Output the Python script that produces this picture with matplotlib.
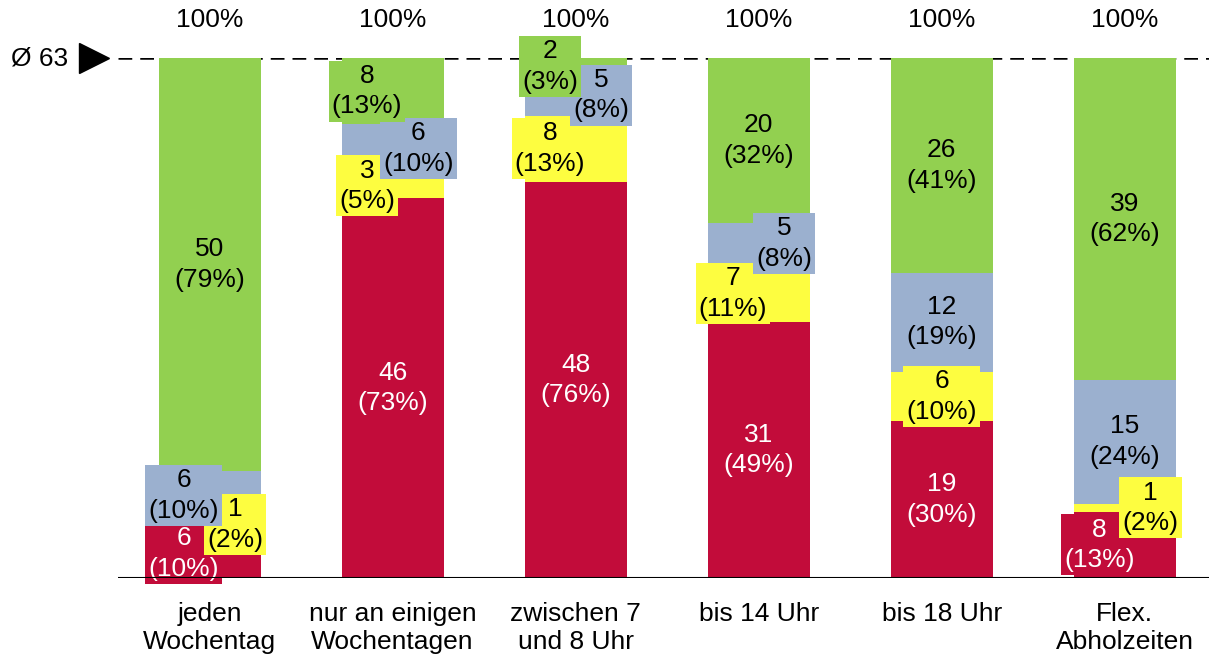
import matplotlib.pyplot as plt
import numpy as np

plt.rcParams['font.family'] = ['Liberation Sans', 'DejaVu Sans']

# Daten
categories = ["jeden\nWochentag", "nur an einigen\nWochentagen", "zwischen 7\nund 8 Uhr",
              "bis 14 Uhr", "bis 18 Uhr", "Flex.\nAbholzeiten"]
red_vals = [6, 46, 48, 31, 19, 8]
yellow_vals = [1, 3, 8, 7, 6, 1]
blue_vals = [6, 6, 5, 5, 12, 15]
green_vals = [50, 8, 2, 20, 26, 39]
red_pct = [10, 73, 76, 49, 30, 13]
yellow_pct = [2, 5, 13, 11, 10, 2]
blue_pct = [10, 10, 8, 8, 19, 24]
green_pct = [79, 13, 3, 32, 41, 62]
average = 63

# Farben
colors = ["#C20C3A", "#FDFD40", "#9BB0CF", "#92D050"]
text_colors = ["white", "black", "black", "black"]

# Verschiebung der Beschriftungen (links -1 / rechts +1)
shifts = [
    [-1, 0, 0, 0, 0, -1],   # rot
    [1, -1, -1, -1, 0, 1],  # gelb
    [-1, 1, 1, 1, 0, 0],    # blau
    [0, -1, -1, 0, 0, 0],   # gruen
]

series = [red_vals, yellow_vals, blue_vals, green_vals]
pcts = [red_pct, yellow_pct, blue_pct, green_pct]

fig = plt.figure(figsize=(12.09, 6.58), dpi=100)
ax = fig.add_axes([118 / 1209, 80 / 658, 1091 / 1209, 520 / 658])

x = np.arange(len(categories))
width = 0.557
bottom = np.zeros(len(categories))
fs = 19

for k, vals in enumerate(series):
    vals = np.array(vals)
    ax.bar(x, vals, width, bottom=bottom, color=colors[k], zorder=2)
    for i in range(len(x)):
        cy = bottom[i] + vals[i] / 2
        cx = x[i] + shifts[k][i] * 0.14
        ax.text(cx, cy, "{0}\n({1}%)".format(vals[i], pcts[k][i]),
                ha="center", va="center", fontsize=fs, linespacing=1.35,
                color=text_colors[k], zorder=3 + k,
                bbox=dict(boxstyle="square,pad=0.12", fc=colors[k], ec="none"))
    bottom = bottom + vals

# 100% oben
for i in range(len(x)):
    ax.text(x[i], average + 4.6, "100%", ha="center", va="center", fontsize=fs)

# Kategorien
for i in range(len(x)):
    ax.text(x[i], -2.9, categories[i], ha="center", va="top", fontsize=fs,
            linespacing=1.2)

# Durchschnittslinie
ax.axhline(average, color="black", lw=1.8, dashes=(5.5, 3.2), zorder=1)
ax.axhline(0, color="black", lw=1.5, zorder=10)
ax.plot([-0.63], [average], marker=">", markersize=22, color="black", clip_on=False)
ax.text(-0.77, average, "Ø 63", ha="right", va="center", fontsize=fs)

ax.set_xlim(-0.5, 5.46)
ax.set_ylim(0, average)
ax.axis("off")

fig.savefig("out.png", dpi=100)
